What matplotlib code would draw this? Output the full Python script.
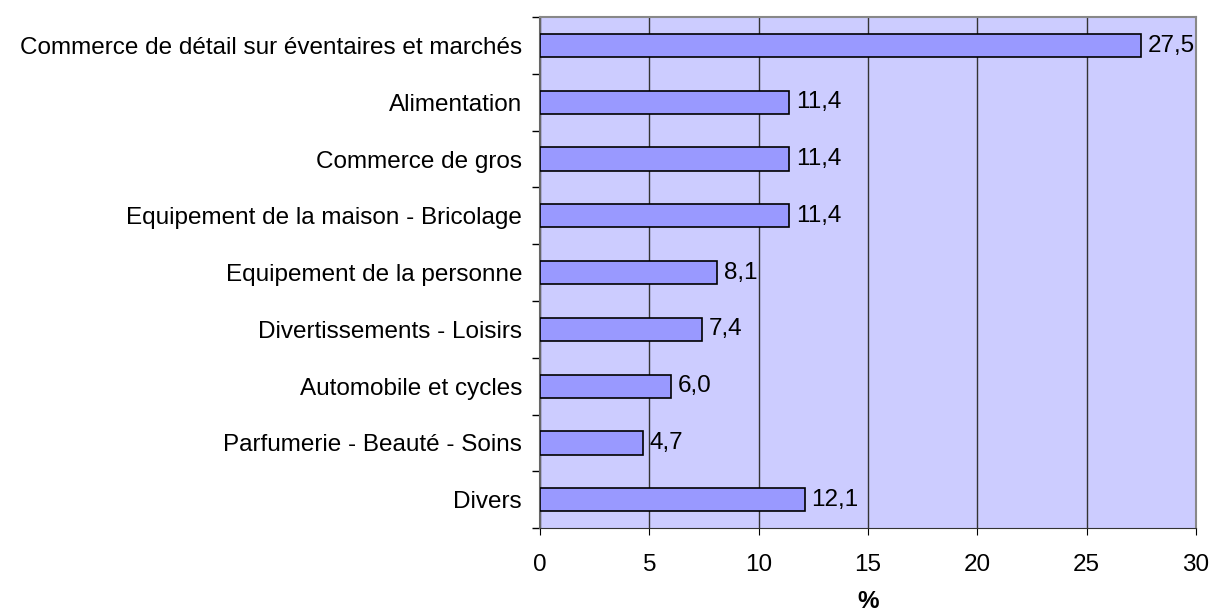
import numpy as np
import matplotlib.pyplot as plt

categories = [
    "Commerce de détail sur éventaires et marchés",
    "Alimentation",
    "Commerce de gros",
    "Equipement de la maison - Bricolage",
    "Equipement de la personne",
    "Divertissements - Loisirs",
    "Automobile et cycles",
    "Parfumerie - Beauté - Soins",
    "Divers",
]
values = [27.5, 11.4, 11.4, 11.4, 8.1, 7.4, 6.0, 4.7, 12.1]
value_labels = ["27,5", "11,4", "11,4", "11,4", "8,1", "7,4", "6,0", "4,7", "12,1"]

plt.rcParams['font.family'] = ['Liberation Sans', 'DejaVu Sans']
fs = 17.5

fig = plt.figure(figsize=(12.11, 6.14), dpi=100)
ax = fig.add_axes([0.446, 0.140, 0.5416, 0.832])
ax.set_facecolor('#CCCCFF')

y = np.arange(len(categories))
ax.barh(y, values, height=0.41, color='#9999FF', edgecolor='black', linewidth=1.2, zorder=3)
for yi, v, lab in zip(y, values, value_labels):
    ax.text(v + 0.3, yi, lab, va='center', ha='left', fontsize=fs, zorder=4)

ax.set_xlim(0, 30)
ax.set_ylim(len(categories) - 0.5, -0.5)
ax.set_xticks(np.arange(0, 31, 5))
ax.tick_params(axis='x', labelsize=fs, length=5, pad=14)
ax.set_yticks(y)
ax.set_yticklabels(categories, fontsize=fs)
ax.tick_params(axis='y', length=0, pad=13)
ax.set_yticks(np.arange(-0.5, len(categories), 1), minor=True)
ax.tick_params(axis='y', which='minor', length=6, width=1)
ax.grid(axis='x', color='#333333', linewidth=1, zorder=1)

for s in ['top', 'right']:
    ax.spines[s].set_color('#888888')
    ax.spines[s].set_linewidth(1.5)
ax.spines['left'].set_color('#666666')
ax.spines['left'].set_linewidth(1.5)
ax.spines['bottom'].set_color('#333333')

ax.set_xlabel('%', fontsize=fs, fontweight='bold', labelpad=10)

fig.savefig('out.png', dpi=100)
